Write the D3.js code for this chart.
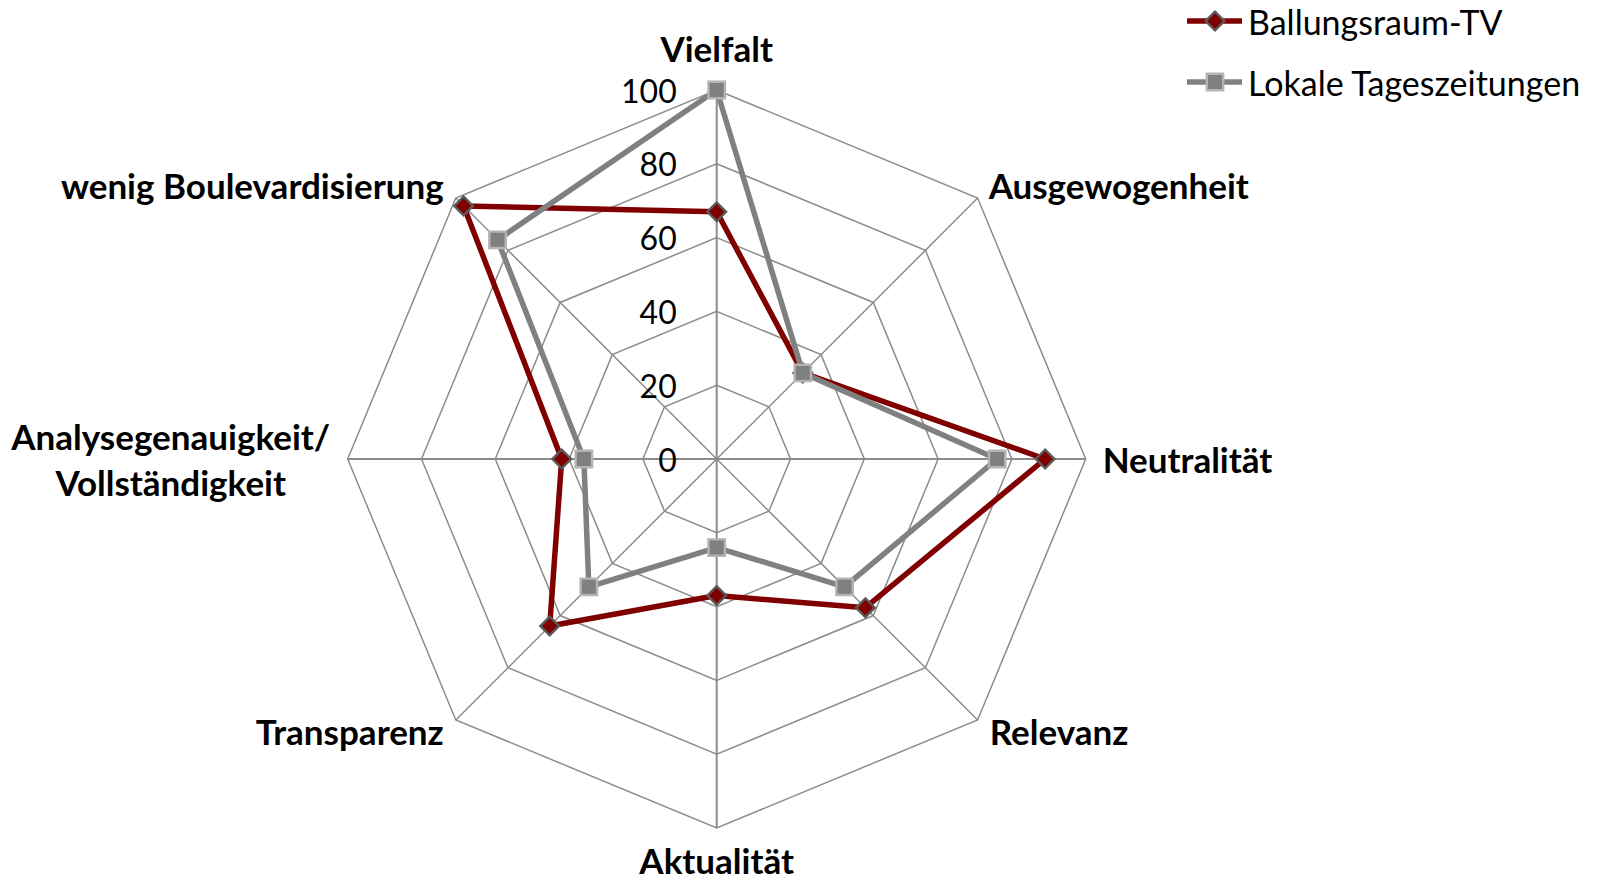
<!DOCTYPE html>
<html>
<head>
<meta charset="utf-8">
<script src="https://cdn.jsdelivr.net/npm/d3@7"></script>
<style>
  html, body { margin: 0; padding: 0; background: #fff; }
  svg { display: block; }
</style>
</head>
<body>
<svg id="chart" width="1598" height="883"></svg>
<script>
// ---- data ----
const categories = ["Vielfalt", "Ausgewogenheit", "Neutralität", "Relevanz", "Aktualität", "Transparenz", "Analysegenauigkeit/\nVollständigkeit", "wenig Boulevardisierung"];
const seriesNames = ["Ballungsraum-TV", "Lokale Tageszeitungen"];
const ballungsraumTV = [67, 33, 89, 57, 37, 64, 42, 97];
const lokaleTageszeitungen = [100, 33, 76, 49, 24, 49, 36, 84];
const tickValues = [0, 20, 40, 60, 80, 100];

// ---- layout ----
const cx = 716.7, cy = 459, R = 369;
const svg = d3.select("#chart");
const g = svg.append("g").attr("transform", `translate(${cx},${cy})`);

const rScale = d3.scaleLinear().domain([0, 100]).range([0, R]);
const angle = d3.scaleBand().domain(categories).range([0, 2 * Math.PI]).align(0).paddingInner(0).paddingOuter(0);
const ang = c => angle(c);
const px = (c, v) => rScale(v) * Math.sin(ang(c));
const py = (c, v) => -rScale(v) * Math.cos(ang(c));

const gridColor = "#8c8c8c";
// rings
tickValues.filter(t => t > 0).forEach(t => {
  g.append("path")
    .attr("d", d3.lineRadial().angle(c => ang(c)).radius(() => rScale(t)).curve(d3.curveLinearClosed)(categories))
    .attr("fill", "none").attr("stroke", gridColor).attr("stroke-width", 1.5);
});
// spokes
categories.forEach((c, i) => {
  g.append("line")
    .attr("x1", 0).attr("y1", 0)
    .attr("x2", px(c, 100)).attr("y2", py(c, 100))
    .attr("stroke", gridColor).attr("stroke-width", (i % 2 === 0) ? 2 : 1.5);
});

// tick labels
const fontReg = "'Lato', 'Open Sans', sans-serif";
g.selectAll("text.tick").data(tickValues).enter().append("text")
  .attr("class", "tick")
  .attr("x", -40).attr("y", d => -rScale(d))
  .attr("text-anchor", "end").attr("dominant-baseline", "central")
  .attr("font-family", fontReg).attr("font-size", 32).attr("fill", "#000")
  .text(d => d);

// series
const colors = ["#800000", "#808080"];
const data = [ballungsraumTV, lokaleTageszeitungen];
const line = d3.lineRadial().angle((d, i) => ang(categories[i])).radius(d => rScale(d)).curve(d3.curveLinearClosed);
const diamond = d3.symbol().type(d3.symbolSquare).size(175);
const square = d3.symbol().type(d3.symbolSquare).size(270);

data.forEach((vals, s) => {
  g.append("path").attr("d", line(vals))
    .attr("fill", "none").attr("stroke", colors[s]).attr("stroke-width", 5.5).attr("stroke-linejoin", "round");
  g.selectAll(`path.m${s}`).data(vals).enter().append("path")
    .attr("class", `m${s}`)
    .attr("transform", (d, i) => `translate(${px(categories[i], d)},${py(categories[i], d)}) rotate(${s === 0 ? 45 : 0})`)
    .attr("d", s === 0 ? diamond() : square())
    .attr("fill", colors[s])
    .attr("stroke", s === 0 ? "#5a5a5a" : "#b4b4b4")
    .attr("stroke-width", 2.4);
});

// category labels
const fontBold = "'Lato', 'Open Sans', sans-serif";
const labelPos = [
  { x: 0, y: -411, anchor: "middle" },
  { x: 272, y: -274, anchor: "start" },
  { x: 386, y: 0, anchor: "start" },
  { x: 273, y: 272, anchor: "start" },
  { x: 0, y: 401, anchor: "middle" },
  { x: -273, y: 272, anchor: "end" },
  { x: -546, y: 0, anchor: "middle" },
  { x: -273, y: -274, anchor: "end" }
];
categories.forEach((c, i) => {
  const p = labelPos[i];
  const lines = c.split("\n");
  const t = g.append("text")
    .attr("x", p.x).attr("y", p.y)
    .attr("text-anchor", p.anchor)
    .attr("font-family", fontBold).attr("font-weight", "bold").attr("font-size", 35).attr("fill", "#000");
  const lh = 46.5;
  lines.forEach((ln, k) => {
    t.append("tspan").attr("x", p.x)
      .attr("y", p.y + (k - (lines.length - 1) / 2) * lh)
      .attr("dominant-baseline", "central")
      .text(ln);
  });
});

// legend
const lg = svg.append("g");
seriesNames.forEach((name, s) => {
  const y = 21 + s * 61;
  lg.append("line").attr("x1", 1187).attr("x2", 1242).attr("y1", y).attr("y2", y)
    .attr("stroke", colors[s]).attr("stroke-width", 5.5);
  lg.append("path")
    .attr("transform", `translate(1215,${y}) rotate(${s === 0 ? 45 : 0})`)
    .attr("d", s === 0 ? diamond() : square())
    .attr("fill", colors[s]).attr("stroke", s === 0 ? "#5a5a5a" : "#b4b4b4").attr("stroke-width", 2.4);
  lg.append("text").attr("x", 1248).attr("y", y)
    .attr("dominant-baseline", "central")
    .attr("font-family", fontReg).attr("font-size", 34).attr("fill", "#000")
    .text(name);
});
</script>
</body>
</html>
